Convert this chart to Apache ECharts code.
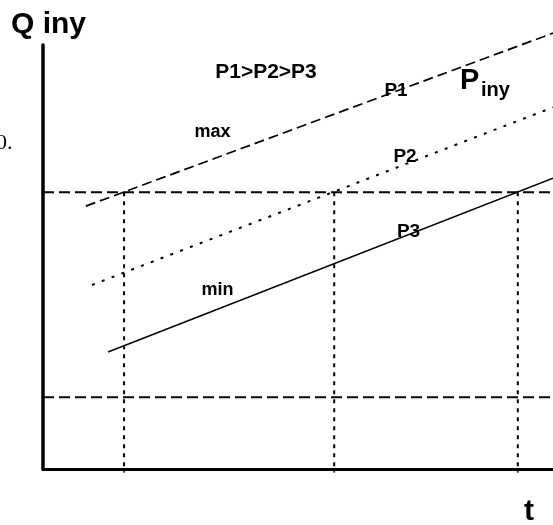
<!DOCTYPE html>
<html>
<head>
<meta charset="utf-8">
<script src="https://cdn.jsdelivr.net/npm/echarts@6/dist/echarts.min.js"></script>
<style>
html,body{margin:0;padding:0;background:#fff;}
#chart{width:553px;height:525px;}
</style>
</head>
<body>
<div id="chart"></div>
<script>
// Schematic values (arbitrary units, x: time t, y: Q iny)
const p1Line = [[8.4, 62.0], [100, 102.8]];   // P1 (max), dashed
const p2Line = [[9.6, 43.4], [100, 85.3]];    // P2, dotted
const p3Line = [[12.75, 27.6], [100, 68.6]];  // P3 (min), solid
const qLevels = [65.3, 16.9];                 // horizontal dashed levels
const tCross = [15.9, 57.1, 93.1];            // vertical guides at crossings
const tBottom = -0.8;

const series = [];
series.push({type:'line', data:p1Line, symbol:'none', clip:false, silent:true,
  lineStyle:{color:'#000', width:1.7, type:[10,5]}});
series.push({type:'line', data:p2Line, symbol:'none', clip:false, silent:true,
  lineStyle:{color:'#000', width:2, type:[3,7.5]}});
series.push({type:'line', data:p3Line, symbol:'none', clip:false, silent:true,
  lineStyle:{color:'#000', width:1.5}});
qLevels.forEach(q => series.push({type:'line', data:[[0,q],[100,q]], symbol:'none', silent:true,
  lineStyle:{color:'#000', width:2, type:[11,5]}}));
tCross.forEach(t => series.push({type:'line', data:[[t,qLevels[0]],[t,tBottom]], symbol:'none', clip:false, silent:true,
  lineStyle:{color:'#000', width:2, type:[4,5]}}));

const SANS = '"Liberation Sans", Arial, sans-serif';
function txt(text, x, y, size, opts) {
  opts = opts || {};
  return {type:'text', z:100, x:x, y:y, style:{text:text, fill:'#000',
    font:(opts.weight||'bold') + ' ' + size + 'px ' + (opts.family||SANS),
    textAlign:opts.align||'center', textVerticalAlign:'middle'}};
}

const chart = echarts.init(document.getElementById('chart'), null, {renderer:'canvas'});
chart.setOption({
  animation:false,
  backgroundColor:'#fff',
  grid:{left:43, right:0, top:45, bottom:56},
  xAxis:{type:'value', min:0, max:100, axisLabel:{show:false}, axisTick:{show:false},
    splitLine:{show:false}, axisLine:{lineStyle:{color:'#000', width:3}}},
  yAxis:{type:'value', min:0, max:100, axisLabel:{show:false}, axisTick:{show:false},
    splitLine:{show:false}, axisLine:{show:true, lineStyle:{color:'#000', width:3.5}}},
  series:series,
  graphic:[
    txt('Q iny', 11, 25, 30, {align:'left'}),
    txt('t', 529, 512, 30),
    txt('P1>P2>P3', 266, 72.5, 21),
    txt('max', 212.5, 132, 18),
    txt('min', 217.5, 290, 18),
    txt('P1', 396, 91, 19),
    txt('P2', 405, 157, 19),
    txt('P3', 408.5, 232, 19),
    txt('P', 460, 81, 29, {align:'left'}),
    txt('iny', 481, 90, 20, {align:'left'}),
    txt('0.', -4, 143, 22, {weight:'normal', family:'"Liberation Serif", "Times New Roman", serif', align:'left'})
  ]
});
</script>
</body>
</html>
